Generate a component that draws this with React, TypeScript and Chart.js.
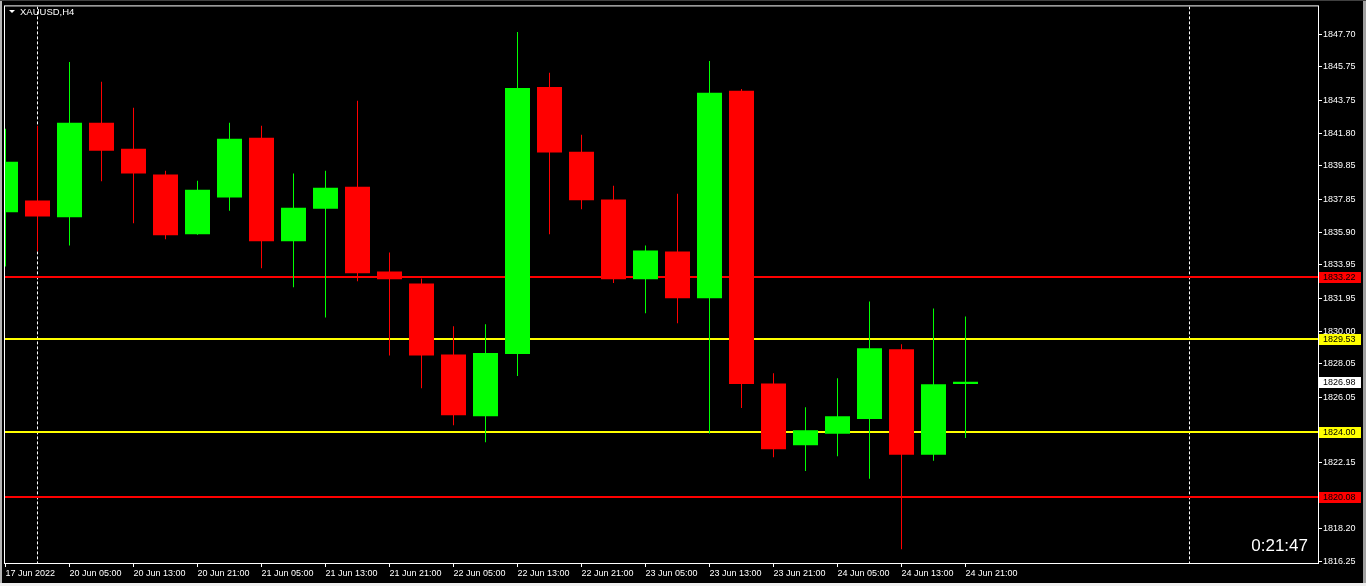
import React, { useEffect, useRef } from "react";
import { Chart, registerables } from "chart.js";

Chart.register(...registerables);

const symbolTitle = "XAUUSD,H4";
const timerText = "0:21:47";

const opens = [
  1837.08, 1837.78, 1836.79, 1842.42, 1840.87, 1839.33, 1835.77, 1837.97, 1841.53, 1835.35,
  1837.3, 1838.61, 1833.55, 1832.84, 1828.61, 1824.92, 1828.63, 1844.56, 1840.69, 1837.84,
  1833.09, 1834.74, 1831.96, 1844.33, 1826.88, 1823.19, 1823.87, 1824.76, 1828.91, 1822.62,
  1826.84,
];
const highs = [
  1842.06, 1842.24, 1846.05, 1844.86, 1843.31, 1839.56, 1838.97, 1842.42, 1842.24, 1839.39,
  1839.56, 1843.73, 1834.68, 1833.13, 1830.28, 1830.4, 1847.84, 1845.4, 1841.71, 1838.67,
  1835.1, 1838.19, 1846.11, 1844.44, 1827.48, 1825.46, 1827.18, 1831.77, 1829.21, 1831.35,
  1830.87,
];
const lows = [
  1833.85, 1834.76, 1835.1, 1838.93, 1836.43, 1835.47, 1835.75, 1837.18, 1833.75, 1832.62,
  1830.81, 1832.97, 1828.55, 1826.59, 1824.39, 1823.37, 1827.32, 1835.77, 1837.26, 1832.86,
  1831.07, 1830.47, 1823.89, 1825.41, 1822.48, 1821.65, 1822.54, 1821.19, 1816.99, 1822.26,
  1823.63,
];
const closes = [
  1840.1, 1836.83, 1842.42, 1840.75, 1839.4, 1835.71, 1838.43, 1841.47, 1835.35, 1837.36,
  1838.55, 1833.45, 1833.09, 1828.55, 1824.98, 1828.69, 1844.5, 1840.65, 1837.8, 1833.09,
  1834.8, 1831.96, 1844.21, 1826.84, 1822.95, 1824.09, 1824.92, 1828.97, 1822.62, 1826.83,
  1826.98,
];

const xTickIndex = [0, 2, 4, 6, 8, 10, 12, 14, 16, 18, 20, 22, 24, 26, 28, 30];
const xTickLabels = [
  "17 Jun 2022", "20 Jun 05:00", "20 Jun 13:00", "20 Jun 21:00", "21 Jun 05:00",
  "21 Jun 13:00", "21 Jun 21:00", "22 Jun 05:00", "22 Jun 13:00", "22 Jun 21:00",
  "23 Jun 05:00", "23 Jun 13:00", "23 Jun 21:00", "24 Jun 05:00", "24 Jun 13:00",
  "24 Jun 21:00",
];
const yTickValues = [
  1847.7, 1845.75, 1843.75, 1841.8, 1839.85, 1837.85, 1835.9, 1833.95, 1831.95, 1830.0,
  1828.05, 1826.05, 1822.15, 1818.2, 1816.25,
];
const levelPrices = [1833.22, 1829.53, 1824.0, 1820.08];
const levelColors = ["#ff0000", "#ffff00", "#ffff00", "#ff0000"];
const separatorIndex = [1, 37];
const bullColor = "#00ff00";
const bearColor = "#ff0000";

const FONT = "'Liberation Sans', Arial, sans-serif";

export default function App() {
  const ref = useRef<HTMLCanvasElement>(null);

  useEffect(() => {
    document.body.style.margin = "0";
    document.body.style.background = "#000";
    const canvas = ref.current!;
    const colors = closes.map((c, i) => (c >= opens[i] ? bullColor : bearColor));

    const mtPlugin = {
      id: "mtPlugin",
      beforeDraw(chart: any) {
        const ctx = chart.ctx as CanvasRenderingContext2D;
        const W = chart.width;
        const H = chart.height;
        ctx.save();
        ctx.fillStyle = "#000";
        ctx.fillRect(0, 0, W, H);
        ctx.fillStyle = "#b4b4b4";
        ctx.fillRect(0, 0, 2, H);
        ctx.fillStyle = "#a0a0a0";
        ctx.fillRect(W - 3, 0, 3, H);
        ctx.fillStyle = "#404040";
        ctx.fillRect(0, 0, W, 1);
        ctx.fillStyle = "#f0f0f0";
        ctx.fillRect(0, H - 3, W, 3);
        ctx.restore();
      },
      beforeDatasetsDraw(chart: any) {
        const ctx = chart.ctx as CanvasRenderingContext2D;
        const area = chart.chartArea;
        const xs = chart.scales.x;
        const ys = chart.scales.y;
        ctx.save();
        ctx.beginPath();
        ctx.rect(area.left, area.top, area.right - area.left, area.bottom - area.top);
        ctx.clip();
        ctx.strokeStyle = "#ffffff";
        ctx.lineWidth = 1;
        ctx.setLineDash([3, 2]);
        separatorIndex.forEach((idx) => {
          const px = Math.round(xs.getPixelForValue(idx) - 0.5) + 0.5;
          ctx.beginPath();
          ctx.moveTo(px, area.top);
          ctx.lineTo(px, area.bottom);
          ctx.stroke();
        });
        ctx.setLineDash([]);
        ctx.lineWidth = 2;
        levelPrices.forEach((p, i) => {
          const py = Math.round(ys.getPixelForValue(p));
          ctx.strokeStyle = levelColors[i];
          ctx.beginPath();
          ctx.moveTo(area.left, py);
          ctx.lineTo(area.right, py);
          ctx.stroke();
        });
        ctx.restore();
      },
      afterDraw(chart: any) {
        const ctx = chart.ctx as CanvasRenderingContext2D;
        const area = chart.chartArea;
        const ys = chart.scales.y;
        ctx.save();
        ctx.strokeStyle = "#ffffff";
        ctx.lineWidth = 1;
        ctx.strokeRect(area.left - 0.5, area.top - 0.5, area.right - area.left + 1, area.bottom - area.top + 1);
        ctx.font = `9px ${FONT}`;
        ctx.textBaseline = "middle";
        ctx.textAlign = "left";
        const boxes = levelPrices.map((p, i) => ({ p, c: levelColors[i] }));
        boxes.push({ p: closes[closes.length - 1], c: "#ffffff" });
        boxes.forEach((b) => {
          const py = Math.round(ys.getPixelForValue(b.p));
          ctx.fillStyle = b.c;
          ctx.fillRect(area.right + 1, py - 5, 42, 11);
          ctx.fillStyle = "#000";
          ctx.fillText(b.p.toFixed(2), area.right + 5, py + 0.5);
        });
        ctx.fillStyle = "#ffffff";
        ctx.beginPath();
        ctx.moveTo(9, 10);
        ctx.lineTo(15, 10);
        ctx.lineTo(12, 13);
        ctx.closePath();
        ctx.fill();
        ctx.font = `9.5px ${FONT}`;
        ctx.textBaseline = "alphabetic";
        ctx.fillText(symbolTitle, 20, 15);
        ctx.font = `17px ${FONT}`;
        ctx.textAlign = "right";
        ctx.fillText(timerText, area.right - 10, 551);
        ctx.restore();
      },
    };

    const chart = new Chart(canvas, {
      type: "bar",
      data: {
        datasets: [
          {
            label: "wick",
            data: lows.map((l, i) => ({ x: i, y: [l, highs[i]] })) as any,
            backgroundColor: colors,
            barThickness: 1,
            grouped: false,
            order: 2,
            inflateAmount: 0,
            borderWidth: 0,
          } as any,
          {
            label: "body",
            data: opens.map((o, i) => ({ x: i, y: [o, closes[i]] })) as any,
            backgroundColor: colors,
            barThickness: 25,
            grouped: false,
            order: 1,
            inflateAmount: 0,
            borderWidth: 0,
          } as any,
        ],
      },
      options: {
        responsive: false,
        animation: false,
        devicePixelRatio: 1,
        layout: { padding: { left: 5, top: 5, right: 0, bottom: 0 } },
        plugins: { legend: { display: false }, tooltip: { enabled: false } },
        scales: {
          x: {
            type: "linear",
            offset: false,
            min: -1 / 64,
            max: 1313 / 32 - 1 / 64,
            afterBuildTicks: (s: any) => {
              s.ticks = xTickIndex.map((v) => ({ value: v }));
            },
            afterFit: (s: any) => {
              s.height = 23;
            },
            ticks: {
              callback: (v: any) => {
                const k = xTickIndex.indexOf(Number(v));
                return k >= 0 ? xTickLabels[k] : "";
              },
              align: "start",
              maxRotation: 0,
              minRotation: 0,
              autoSkip: false,
              color: "#ffffff",
              font: { family: FONT, size: 9 },
              padding: 1,
            },
            grid: { drawOnChartArea: false, drawTicks: true, tickLength: 4, color: "#ffffff", offset: false },
            border: { color: "#ffffff" },
          } as any,
          y: {
            type: "linear",
            position: "right",
            beginAtZero: false,
            min: 1816.17,
            max: 1849.36,
            afterBuildTicks: (s: any) => {
              s.ticks = yTickValues.map((v) => ({ value: v }));
            },
            afterFit: (s: any) => {
              s.width = 48;
            },
            ticks: {
              callback: (v: any) => Number(v).toFixed(2),
              autoSkip: false,
              color: "#ffffff",
              font: { family: FONT, size: 9 },
              padding: 1,
            },
            grid: { drawOnChartArea: false, drawTicks: true, tickLength: 4, color: "#ffffff" },
            border: { color: "#ffffff" },
          } as any,
        },
      },
      plugins: [mtPlugin],
    });
    return () => chart.destroy();
  }, []);

  return (
    <div style={{ position: "absolute", left: 0, top: 0, width: 1366, height: 586 }}>
      <canvas ref={ref} width={1366} height={586} style={{ display: "block", width: 1366, height: 586 }} />
    </div>
  );
}
